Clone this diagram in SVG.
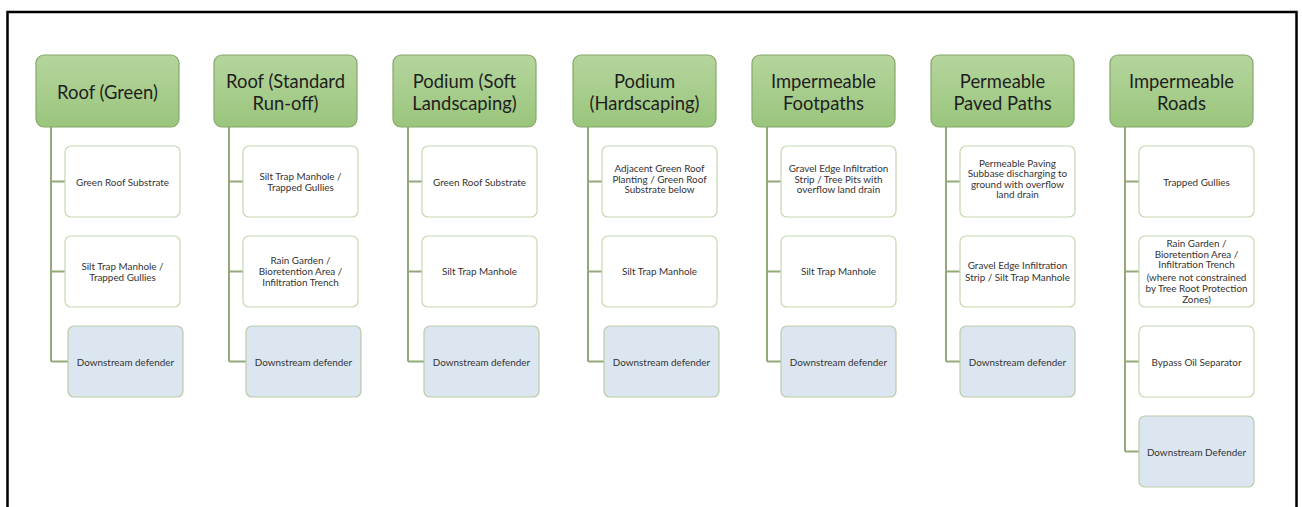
<svg xmlns="http://www.w3.org/2000/svg" width="1302" height="507" viewBox="0 0 1302 507">
  <defs>
    <linearGradient id="hdrFill" x1="0" y1="0" x2="0" y2="1">
      <stop offset="0" stop-color="#b5d59d"/>
      <stop offset="1" stop-color="#9ac57c"/>
    </linearGradient>
    <style>
      .frame { fill: #ffffff; stroke: #000000; stroke-width: 2.5; }
      .hdr { fill: url(#hdrFill); stroke: #86a86a; stroke-width: 1.2; }
      .hdr-t { font-family: Lato, "Open Sans", "Liberation Sans", sans-serif; font-size: 18.4px; fill: #1e1e1e; text-anchor: middle; dominant-baseline: central; }
      .step { fill: #ffffff; stroke: #c6d8b0; stroke-width: 1.2; }
      .final { fill: #dce6f1; stroke: #bccba8; stroke-width: 1.2; }
      .step-t { font-family: Lato, "Open Sans", "Liberation Sans", sans-serif; font-size: 9.9px; fill: #333333; text-anchor: middle; dominant-baseline: central; }
      .wire { fill: none; stroke: #93a97a; stroke-width: 2; }
    </style>
  </defs>

  <!-- outer frame -->
  <rect class="frame" x="7.5" y="12" width="1289" height="510"/>

  <!-- connectors: trunk from each heading down to its last step, with a tick into every step -->
  <g id="connectors">
    <path class="wire" d="M51 127 V361.5 M51 181.5 H65 M51 271.5 H65 M51 361.5 H68"/>
    <path class="wire" d="M229 127 V361.5 M229 181.5 H243 M229 271.5 H243 M229 361.5 H246"/>
    <path class="wire" d="M408 127 V361.5 M408 181.5 H422 M408 271.5 H422 M408 361.5 H424"/>
    <path class="wire" d="M588 127 V361.5 M588 181.5 H602 M588 271.5 H602 M588 361.5 H604"/>
    <path class="wire" d="M767 127 V361.5 M767 181.5 H781 M767 271.5 H781 M767 361.5 H781"/>
    <path class="wire" d="M946 127 V361.5 M946 181.5 H960 M946 271.5 H960 M946 361.5 H960"/>
    <path class="wire" d="M1125 127 V451.5 M1125 181.5 H1139 M1125 271.5 H1139 M1125 361.5 H1139 M1125 451.5 H1139"/>
  </g>

  <!-- Roof (Green) -->
  <g id="roof-green">
    <rect class="hdr" x="36" y="55" width="143" height="72" rx="8"/>
    <text class="hdr-t" x="107.5" y="92">Roof (Green)</text>
    <rect class="step" x="65" y="146" width="115" height="71" rx="6"/>
    <text class="step-t" x="122.5" y="181.5">Green Roof Substrate</text>
    <rect class="step" x="65" y="236" width="115" height="71" rx="6"/>
    <text class="step-t" x="122.5"><tspan x="122.5" y="265.5">Silt Trap Manhole /</tspan><tspan x="122.5" y="276.5">Trapped Gullies</tspan></text>
    <rect class="final" x="68" y="326" width="115" height="71" rx="6"/>
    <text class="step-t" x="125.5" y="361.5">Downstream defender</text>
  </g>

  <!-- Roof (Standard Run-off) -->
  <g id="roof-standard">
    <rect class="hdr" x="214" y="55" width="143" height="72" rx="8"/>
    <text class="hdr-t" x="285.5"><tspan x="285.5" y="80.5">Roof (Standard</tspan><tspan x="285.5" y="102.5">Run-off)</tspan></text>
    <rect class="step" x="243" y="146" width="115" height="71" rx="6"/>
    <text class="step-t" x="300.5"><tspan x="300.5" y="175.5">Silt Trap Manhole /</tspan><tspan x="300.5" y="187">Trapped Gullies</tspan></text>
    <rect class="step" x="243" y="236" width="115" height="71" rx="6"/>
    <text class="step-t" x="300.5"><tspan x="300.5" y="259.5">Rain Garden /</tspan><tspan x="300.5" y="270.8">Bioretention Area /</tspan><tspan x="300.5" y="282">Infiltration Trench</tspan></text>
    <rect class="final" x="246" y="326" width="115" height="71" rx="6"/>
    <text class="step-t" x="303.5" y="361.5">Downstream defender</text>
  </g>

  <!-- Podium (Soft Landscaping) -->
  <g id="podium-soft">
    <rect class="hdr" x="393" y="55" width="143" height="72" rx="8"/>
    <text class="hdr-t" x="464.5"><tspan x="464.5" y="80.5">Podium (Soft</tspan><tspan x="464.5" y="102.5">Landscaping)</tspan></text>
    <rect class="step" x="422" y="146" width="115" height="71" rx="6"/>
    <text class="step-t" x="479.5" y="181.5">Green Roof Substrate</text>
    <rect class="step" x="422" y="236" width="115" height="71" rx="6"/>
    <text class="step-t" x="479.5" y="271">Silt Trap Manhole</text>
    <rect class="final" x="424" y="326" width="115" height="71" rx="6"/>
    <text class="step-t" x="481.5" y="361.5">Downstream defender</text>
  </g>

  <!-- Podium (Hardscaping) -->
  <g id="podium-hard">
    <rect class="hdr" x="573" y="55" width="143" height="72" rx="8"/>
    <text class="hdr-t" x="644.5"><tspan x="644.5" y="80.5">Podium</tspan><tspan x="644.5" y="102.5">(Hardscaping)</tspan></text>
    <rect class="step" x="602" y="146" width="115" height="71" rx="6"/>
    <text class="step-t" x="659.5"><tspan x="659.5" y="168">Adjacent Green Roof</tspan><tspan x="659.5" y="178.5">Planting / Green Roof</tspan><tspan x="659.5" y="189">Substrate below</tspan></text>
    <rect class="step" x="602" y="236" width="115" height="71" rx="6"/>
    <text class="step-t" x="659.5" y="271">Silt Trap Manhole</text>
    <rect class="final" x="604" y="326" width="115" height="71" rx="6"/>
    <text class="step-t" x="661.5" y="361.5">Downstream defender</text>
  </g>

  <!-- Impermeable Footpaths -->
  <g id="impermeable-footpaths">
    <rect class="hdr" x="752" y="55" width="143" height="72" rx="8"/>
    <text class="hdr-t" x="823.5"><tspan x="823.5" y="80.5">Impermeable</tspan><tspan x="823.5" y="102.5">Footpaths</tspan></text>
    <rect class="step" x="781" y="146" width="115" height="71" rx="6"/>
    <text class="step-t" x="838.5"><tspan x="838.5" y="168">Gravel Edge Infiltration</tspan><tspan x="838.5" y="178.5">Strip / Tree Pits with</tspan><tspan x="838.5" y="189">overflow land drain</tspan></text>
    <rect class="step" x="781" y="236" width="115" height="71" rx="6"/>
    <text class="step-t" x="838.5" y="271">Silt Trap Manhole</text>
    <rect class="final" x="781" y="326" width="115" height="71" rx="6"/>
    <text class="step-t" x="838.5" y="361.5">Downstream defender</text>
  </g>

  <!-- Permeable Paved Paths -->
  <g id="permeable-paved-paths">
    <rect class="hdr" x="931" y="55" width="143" height="72" rx="8"/>
    <text class="hdr-t" x="1002.5"><tspan x="1002.5" y="80.5">Permeable</tspan><tspan x="1002.5" y="102.5">Paved Paths</tspan></text>
    <rect class="step" x="960" y="146" width="115" height="71" rx="6"/>
    <text class="step-t" x="1017.5"><tspan x="1017.5" y="162.5">Permeable Paving</tspan><tspan x="1017.5" y="173">Subbase discharging to</tspan><tspan x="1017.5" y="183.5">ground with overflow</tspan><tspan x="1017.5" y="194">land drain</tspan></text>
    <rect class="step" x="960" y="236" width="115" height="71" rx="6"/>
    <text class="step-t" x="1017.5"><tspan x="1017.5" y="264.5">Gravel Edge Infiltration</tspan><tspan x="1017.5" y="276.5">Strip / Silt Trap Manhole</tspan></text>
    <rect class="final" x="960" y="326" width="115" height="71" rx="6"/>
    <text class="step-t" x="1017.5" y="361.5">Downstream defender</text>
  </g>

  <!-- Impermeable Roads -->
  <g id="impermeable-roads">
    <rect class="hdr" x="1110" y="55" width="143" height="72" rx="8"/>
    <text class="hdr-t" x="1181.5"><tspan x="1181.5" y="80.5">Impermeable</tspan><tspan x="1181.5" y="102.5">Roads</tspan></text>
    <rect class="step" x="1139" y="146" width="115" height="71" rx="6"/>
    <text class="step-t" x="1196.5" y="181.5">Trapped Gullies</text>
    <rect class="step" x="1139" y="236" width="115" height="71" rx="6"/>
    <text class="step-t" x="1196.5"><tspan x="1196.5" y="243">Rain Garden /</tspan><tspan x="1196.5" y="253.5">Bioretention Area /</tspan><tspan x="1196.5" y="264">Infiltration Trench</tspan><tspan x="1196.5" y="277">(where not constrained</tspan><tspan x="1196.5" y="287.5">by Tree Root Protection</tspan><tspan x="1196.5" y="298.5">Zones)</tspan></text>
    <rect class="step" x="1139" y="326" width="115" height="71" rx="6"/>
    <text class="step-t" x="1196.5" y="361.5">Bypass Oil Separator</text>
    <rect class="final" x="1139" y="416" width="115" height="71" rx="6"/>
    <text class="step-t" x="1196.5" y="451.5">Downstream Defender</text>
  </g>
</svg>
